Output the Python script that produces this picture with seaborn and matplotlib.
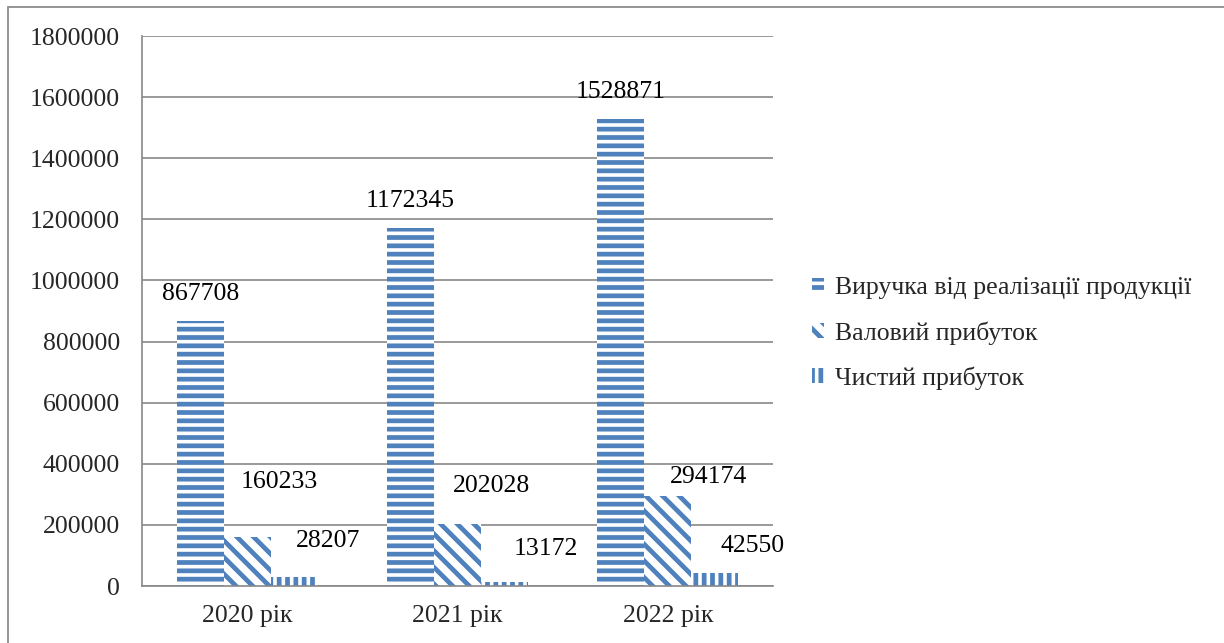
import matplotlib
matplotlib.use("Agg")
import matplotlib.pyplot as plt
import seaborn as sns
import pandas as pd
from matplotlib.patches import Rectangle

# ---- data ----
categories = ["2020 рік", "2021 рік", "2022 рік"]
series = ["Виручка від реалізації продукції", "Валовий прибуток", "Чистий прибуток"]
revenue = [867708, 1172345, 1528871]
gross = [160233, 202028, 294174]
net = [28207, 13172, 42550]
y_ticks = [0, 200000, 400000, 600000, 800000, 1000000, 1200000, 1400000, 1600000, 1800000]

# label offsets (points) relative to bar top center, per series/category
label_offsets = [
    [(0, 19.5), (0, 19.5), (0, 19.5)],
    [(23.4, 39.6), (24.8, 27.4), (29.2, 13.7)],
    [(24.1, 25.9), (29.5, 24.1), (27.4, 19.4)],
]

rows = []
for s, vals in zip(series, [revenue, gross, net]):
    for c, v in zip(categories, vals):
        rows.append({"cat": c, "series": s, "value": v})
df = pd.DataFrame(rows)

sns.set_theme(style="white")
plt.rcParams["font.family"] = ["Liberation Serif", "DejaVu Serif"]
plt.rcParams["hatch.linewidth"] = 3.4

blue = "#4F81BD"
grid_c = "#878787"
fs = 18.5

fig = plt.figure(figsize=(12.24, 6.43), dpi=100)
ax = fig.add_axes([0.116, 0.0886, 0.5155, 0.8554])

sns.barplot(data=df, x="cat", y="value", hue="series", order=categories,
            hue_order=series, ax=ax, width=0.67, palette=["white"] * 3,
            legend=True, saturation=1)

hatches = ["--", "\\\\", "||"]
for cont, h, offs in zip(ax.containers, hatches, label_offsets):
    for bar, (dx, dy) in zip(cont, offs):
        bar.set_facecolor("white")
        bar.set_edgecolor(blue)
        bar.set_linewidth(0)
        bar.set_hatch(h)
        v = bar.get_height()
        ax.annotate(f"{int(v)}", (bar.get_x() + bar.get_width() / 2, v),
                    xytext=(dx, dy), textcoords="offset points",
                    ha="center", va="center", fontsize=fs, color="black")

ax.set_ylim(0, 1800000)
ax.set_xlim(-0.5, 2.5)
ax.set_yticks(y_ticks)
ax.set_yticklabels([str(t) for t in y_ticks], fontsize=fs)
ax.set_xticks(range(len(categories)))
ax.set_xticklabels(categories, fontsize=fs)
ax.set_xticks([-0.5, 0.5, 1.5, 2.5], minor=True)
ax.tick_params(axis="x", which="major", length=0, pad=14)
ax.tick_params(axis="x", which="minor", length=6, color=grid_c, width=1.2, direction="out")
ax.tick_params(axis="y", length=5, color=grid_c, width=1.2, direction="out", pad=11)
ax.yaxis.grid(True, color=grid_c, linewidth=1.2)
ax.set_axisbelow(True)
ax.set_xlabel("")
ax.set_ylabel("")
for side in ["top", "right"]:
    ax.spines[side].set_visible(False)
for side in ["left", "bottom"]:
    ax.spines[side].set_color(grid_c)
    ax.spines[side].set_linewidth(1.2)

leg = ax.legend(loc="center left", bbox_to_anchor=(1.045, 0.459), frameon=False,
                fontsize=fs, handlelength=0.5, handleheight=0.5, handletextpad=0.4,
                labelspacing=0.85, borderaxespad=0)
for patch, h in zip(leg.get_patches(), hatches):
    patch.set_facecolor("white")
    patch.set_edgecolor(blue)
    patch.set_linewidth(0)
    patch.set_hatch(h)

fig.add_artist(Rectangle((8 / 1224, -0.05), 1.2, 636 / 643 + 0.05,
                         transform=fig.transFigure, fill=False,
                         edgecolor="#8c8c8c", linewidth=1.3, clip_on=False))

fig.savefig("out.png", dpi=100)
